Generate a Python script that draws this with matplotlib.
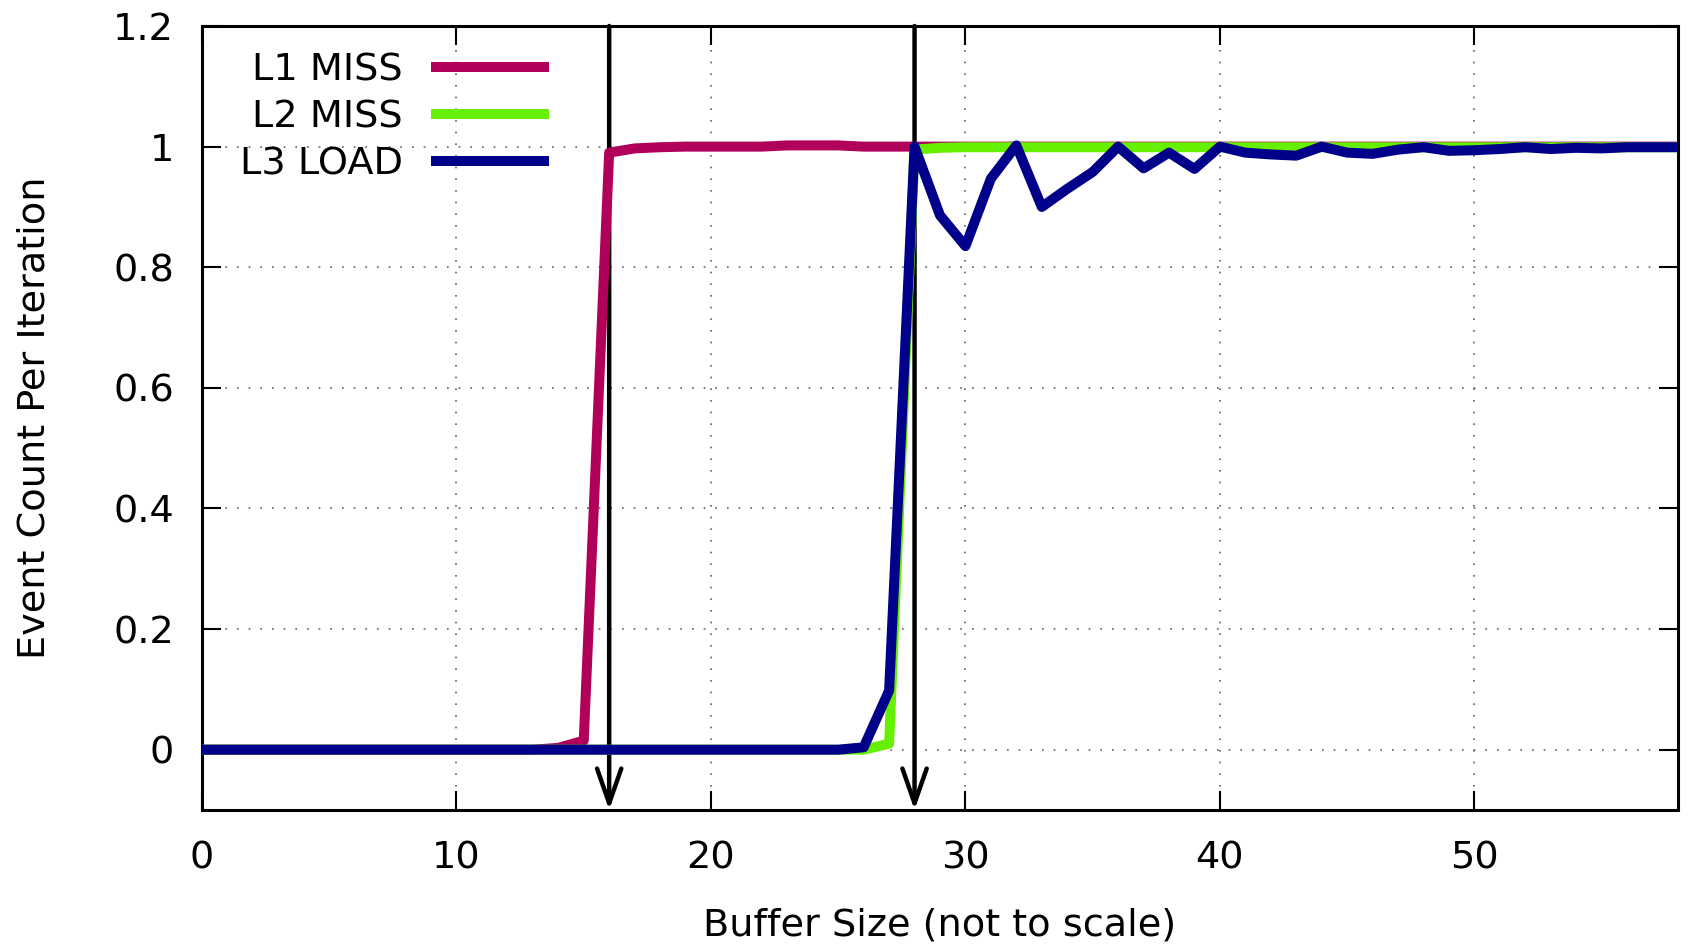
import matplotlib
matplotlib.use("Agg")
import matplotlib.pyplot as plt

# buffer size steps (not to scale)
x = list(range(0, 59))

l1_miss = [0.0] * 14 + [0.003, 0.015, 0.99, 0.997, 0.999] + [1.0] * 4 + [1.002] * 3 + [1.0] * 33
l2_miss = [0.0] * 27 + [0.01, 0.995, 0.998] + [0.999] * 29
l3_load = ([0.0] * 26 + [0.004, 0.098, 1.0, 0.886, 0.835, 0.947, 1.002, 0.9, 0.93, 0.958,
            1.0, 0.964, 0.99, 0.963, 1.0, 0.99, 0.987, 0.985, 1.0, 0.99, 0.988, 0.995,
            0.999, 0.993, 0.994, 0.996, 0.999, 0.996, 0.998, 0.997, 0.999, 0.999, 0.999])

series = [("L1 MISS", l1_miss, "#B0005A"),
          ("L2 MISS", l2_miss, "#66F000"),
          ("L3 LOAD", l3_load, "#00008B")]

arrow_x = [16, 28]
xticks = [0, 10, 20, 30, 40, 50]
yticks = [0, 0.2, 0.4, 0.6, 0.8, 1.0, 1.2]
ytick_labels = ["0", "0.2", "0.4", "0.6", "0.8", "1", "1.2"]

fs = 27.5
plt.rcParams['font.family'] = ['DejaVu Sans']
fig = plt.figure(figsize=(16.88, 9.46), dpi=100)
ax = fig.add_axes([202 / 1688, 1 - 810 / 946, (1678 - 202) / 1688, (810 - 26) / 946])

for name, vals, col in series:
    ax.plot(x, vals, color=col, lw=7.2, label=name, zorder=3, solid_joinstyle='round')

for xa in arrow_x:
    ax.annotate("", xy=(xa, -0.1), xytext=(xa, 1.2),
                arrowprops=dict(arrowstyle="->,head_length=1.0,head_width=0.35",
                                mutation_scale=25, lw=3.2, color="black",
                                shrinkA=0, shrinkB=0),
                zorder=2)

ax.set_xlim(0, 58)
ax.set_ylim(-0.1, 1.2)
ax.set_xticks(xticks)
ax.set_yticks(yticks)
ax.set_yticklabels(ytick_labels)
ax.tick_params(direction="in", length=14, width=1.5, labelsize=fs,
               top=True, right=True)
ax.tick_params(axis="x", pad=22)
ax.tick_params(axis="y", pad=20)
for s in ax.spines.values():
    s.set_linewidth(2.2)
ax.grid(True, color="#606060", lw=1.2, linestyle=(0, (1, 6)))
ax.set_axisbelow(True)

ax.set_xlabel("Buffer Size (not to scale)", fontsize=fs, labelpad=22)
ax.set_ylabel("Event Count Per Iteration", fontsize=fs, labelpad=44)

leg = ax.legend(loc="upper right", bbox_to_anchor=(0.235, 0.966), frameon=False,
                markerfirst=False, fontsize=fs, handlelength=3.09, handletextpad=0.73,
                labelspacing=0.28, borderpad=0, borderaxespad=0)
for line in leg.get_lines():
    line.set_solid_capstyle("butt")

fig.savefig("out.png", dpi=100)
